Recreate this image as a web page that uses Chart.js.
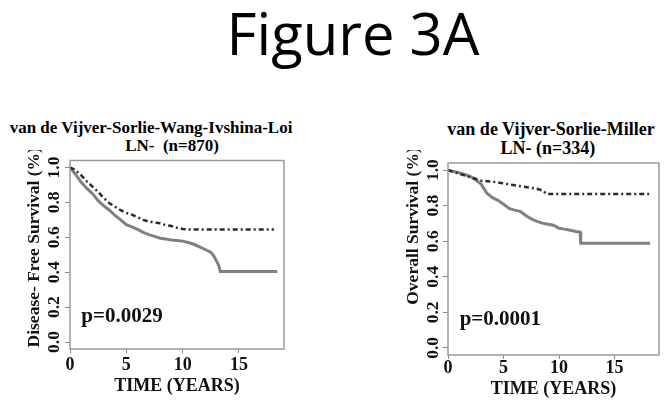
<!DOCTYPE html>
<html>
<head>
<meta charset="utf-8">
<script src="https://cdn.jsdelivr.net/npm/chart.js@4.4.1/dist/chart.umd.min.js"></script>
<style>
  body { margin: 0; background: #fff; width: 671px; height: 405px; position: relative; overflow: hidden; }
  .fig { position: absolute; left: 103px; width: 500px; top: 4px; text-align: center;
         font-family: "Open Sans", sans-serif; font-size: 58px; line-height: 58px; color: #000; }
  .t { position: absolute; width: 300px; text-align: center; white-space: pre;
       font-family: "Liberation Serif", serif; font-weight: bold; font-size: 17px; line-height: 17.5px; color: #000; }
  .box { position: absolute; }
</style>
</head>
<body>
<div class="fig">Figure 3A</div>
<div class="t" style="left:1px;top:119px">van de Vijver-Sorlie-Wang-Ivshina-Loi</div>
<div class="t" style="left:22px;top:137px">LN-  (n=870)</div>
<div class="t" style="left:401px;top:121px;font-size:18px">van de Vijver-Sorlie-Miller</div>
<div class="t" style="left:398px;top:140px;font-size:18px">LN- (n=334)</div>

<div class="box" style="left:0;top:150px;width:300px;height:255px"><canvas id="left"></canvas></div>
<div class="box" style="left:360px;top:150px;width:311px;height:255px"><canvas id="right"></canvas></div>

<script>
// x axis (years) and y axis (survival) ticks
const timeTicks = [0, 5, 10, 15];
const survTicks = [0, 0.2, 0.4, 0.6, 0.8, 1.0];

// left panel: disease-free survival, LN- (n=870)
const dfsHighT = [0, 0.5, 1, 1.5, 2, 2.5, 3, 3.5, 4, 4.5, 5, 5.5, 6, 6.5, 7, 7.5, 8, 8.5, 9, 9.5, 10, 10.5, 18.1];
const dfsHighS = [1.0, 0.985, 0.955, 0.92, 0.89, 0.86, 0.825, 0.795, 0.775, 0.755, 0.74, 0.73, 0.715, 0.70, 0.69, 0.685, 0.68, 0.67, 0.665, 0.655, 0.648, 0.645, 0.645];
const dfsLowT = [0, 0.5, 1, 1.5, 2, 2.5, 3, 3.5, 4, 4.5, 5, 5.5, 6, 6.5, 7, 7.5, 8, 8.5, 9, 9.5, 10, 10.5, 11, 11.5, 12, 12.5, 12.8, 13.0, 13.2, 13.35, 18.4];
const dfsLowS = [1.0, 0.96, 0.915, 0.88, 0.85, 0.81, 0.78, 0.755, 0.725, 0.70, 0.672, 0.66, 0.645, 0.628, 0.615, 0.605, 0.595, 0.59, 0.585, 0.582, 0.578, 0.57, 0.56, 0.545, 0.53, 0.515, 0.49, 0.465, 0.44, 0.404, 0.404];

// right panel: overall survival, LN- (n=334)
const osHighT = [0, 1, 2, 3, 4, 5, 6, 7, 8, 8.5, 8.9, 18.3];
const osHighS = [1.0, 0.98, 0.96, 0.94, 0.935, 0.925, 0.915, 0.905, 0.895, 0.885, 0.865, 0.865];
const osLowT = [0, 1, 2, 2.5, 3, 3.5, 4, 4.5, 5, 5.5, 6, 6.5, 7, 7.5, 8, 8.5, 9, 9.5, 10, 10.5, 11, 11.5, 11.9, 11.95, 18.2];
const osLowS = [1.0, 0.985, 0.965, 0.945, 0.92, 0.87, 0.845, 0.83, 0.808, 0.785, 0.775, 0.768, 0.745, 0.725, 0.712, 0.702, 0.695, 0.69, 0.673, 0.668, 0.662, 0.655, 0.652, 0.589, 0.589];

const pts = (t, s) => t.map((v, i) => ({ x: v, y: s[i] }));
const serif = '"Liberation Serif", "Times New Roman", serif';

// frame, p-value and the vertical axis title
const extras = {
  id: 'extras',
  afterDraw(chart, args, o) {
    const { ctx, chartArea: a, scales: { x, y } } = chart;
    ctx.save();
    ctx.strokeStyle = '#9a9a9a';
    ctx.lineWidth = 1.5;
    ctx.strokeRect(a.left, a.top, a.right - a.left, a.bottom - a.top);
    ctx.fillStyle = '#111';
    ctx.font = 'bold 21px ' + serif;
    ctx.textBaseline = 'alphabetic';
    ctx.fillText(o.p, x.getPixelForValue(o.px), y.getPixelForValue(o.py));
    ctx.translate(o.tx, (a.top + a.bottom) / 2 + o.ty);
    ctx.rotate(-Math.PI / 2);
    ctx.textAlign = 'center';
    ctx.textBaseline = 'middle';
    ctx.font = 'bold 17.5px ' + serif;
    ctx.fillText(o.title, 0, 0);
    ctx.restore();
  }
};

function makeChart(id, hi, lo, opt) {
  return new Chart(document.getElementById(id), {
    type: 'line',
    data: {
      datasets: [
        { data: hi, borderColor: '#2b2b2b', borderWidth: 2.5, borderDash: [5, 3, 2, 3], pointRadius: 0, tension: 0 },
        { data: lo, borderColor: '#808080', borderWidth: 3, pointRadius: 0, tension: 0 }
      ]
    },
    options: {
      responsive: true,
      maintainAspectRatio: false,
      animation: false,
      layout: { padding: { left: 0, top: opt.padTop, right: opt.padRight, bottom: 0 } },
      plugins: {
        legend: { display: false },
        tooltip: { enabled: false },
        extras: opt.extras
      },
      scales: {
        x: {
          type: 'linear', min: 0, max: 19,
          afterBuildTicks: s => { s.ticks = timeTicks.map(v => ({ value: v })); },
          afterFit: s => { s.height = opt.xHeight; },
          grid: { drawOnChartArea: false, drawTicks: true, tickLength: 4, color: '#888' },
          border: { display: false },
          ticks: { font: { family: serif, size: 18, weight: 'bold' }, color: '#111', padding: opt.xPad, maxRotation: 0 },
          title: { display: true, text: 'TIME (YEARS)', color: '#111',
                   font: { family: serif, size: 18, weight: 'bold' }, padding: { top: 0, bottom: opt.xTitlePad } }
        },
        y: {
          type: 'linear', min: -0.04, max: 1.04,
          afterBuildTicks: s => { s.ticks = survTicks.map(v => ({ value: v })); },
          afterFit: s => { s.width = opt.yWidth; },
          grid: { drawOnChartArea: false, drawTicks: true, tickLength: 5, color: '#888' },
          border: { display: false },
          ticks: { font: { family: serif, size: 17.5, weight: 'bold' }, color: '#111', padding: opt.yPad,
                   minRotation: 90, maxRotation: 90, crossAlign: 'center',
                   callback: v => v.toFixed(1) }
        }
      }
    },
    plugins: [extras]
  });
}

makeChart('left', pts(dfsHighT, dfsHighS), pts(dfsLowT, dfsLowS), {
  padTop: 6, padRight: 16, xHeight: 56, yWidth: 70, xPad: 2, yPad: 0, xTitlePad: 8,
  extras: { p: 'p=0.0029', px: 1.0, py: 0.115, title: 'Disease- Free Survival (%)', tx: 34, ty: -7.5 }
});
makeChart('right', pts(osHighT, osHighS), pts(osLowT, osLowS), {
  padTop: 13, padRight: 12, xHeight: 50, yWidth: 88, xPad: -1, yPad: -1, xTitlePad: 5,
  extras: { p: 'p=0.0001', px: 1.05, py: 0.127, title: 'Overall Survival (%)', tx: 53, ty: -33 }
});
</script>
</body>
</html>
